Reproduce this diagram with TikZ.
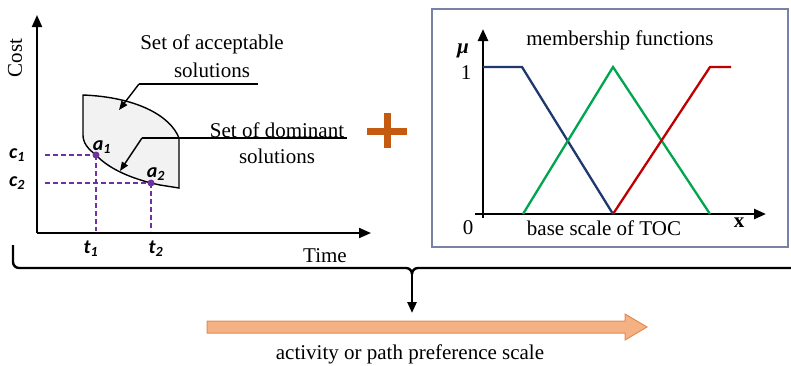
\documentclass[tikz,border=0pt]{standalone}
\usepackage{fontspec}
\setmainfont{Liberation Serif}
\newfontfamily\labfont{Carlito}
\usetikzlibrary{arrows.meta}
\definecolor{navyline}{RGB}{31,56,110}
\definecolor{greenline}{RGB}{0,165,80}
\definecolor{redline}{RGB}{192,0,0}
\definecolor{purp}{RGB}{112,48,160}
\definecolor{boxedge}{RGB}{120,130,165}
\definecolor{plusor}{RGB}{197,90,17}
\definecolor{arrfill}{RGB}{244,177,131}
\definecolor{arredge}{RGB}{229,139,79}
\begin{document}
\begin{tikzpicture}[x=1pt,y=-1pt,
  txt/.style={font=\fontsize{21}{24}\selectfont, inner sep=0pt},
  lab/.style={font=\fontsize{20}{22}\selectfont\labfont\bfseries\itshape, inner sep=0pt},
  axis/.style={line width=2pt, -{Triangle[length=12pt,width=10pt]}},
  pdash/.style={purp, line width=1.3pt, dash pattern=on 5pt off 3pt},
  leader/.style={line width=1.4pt},
  leadarrow/.style={line width=1.4pt, -{Triangle[length=9pt,width=7pt]}},
  mf/.style={line width=2.3pt, line join=miter}]
\useasboundingbox (0,0) rectangle (791,365);
% ---------- left chart ----------
\coordinate (o) at (37,233);
\coordinate (ytop) at (37,15);
\coordinate (xend) at (371,233);
\draw[axis] (o) -- (ytop);
\draw[axis] (o) -- (xend);
\node[txt, rotate=90] (cost) at (15,58) {Cost};
\node[txt] (time) at (325,256) {Time};
% region
\coordinate (a1) at (96,155);
\coordinate (a2) at (151,183);
\draw[line width=1.4pt, fill=black!5]
  (83,95) .. controls (135,97) and (170,115) .. (179,138)
  -- (179,188) -- (160,185) -- (a2)
  .. controls (128,177) and (108,168) .. (a1)
  .. controls (88,149) and (83,143) .. (83,135) -- cycle;
% dashed projections
\coordinate (c1l) at (45,155);
\coordinate (c2l) at (45,183);
\coordinate (t1b) at (96,231);
\coordinate (t2b) at (151,231);
\draw[pdash] (c1l) -- (a1);
\draw[pdash] (c2l) -- (a2);
\draw[pdash] (a1) -- (t1b);
\draw[pdash] (a2) -- (t2b);
\fill[purp] (a1) circle (3.5pt);
\fill[purp] (a2) circle (3.5pt);
\node[lab] (c1) at (17,155) {c\textsubscript{1}};
\node[lab] (c2) at (17,183) {c\textsubscript{2}};
\node[lab] (t1) at (91,249) {t\textsubscript{1}};
\node[lab] (t2) at (156,249) {t\textsubscript{2}};
\node[lab] (a1l) at (102,147) {a\textsubscript{1}};
\node[lab] (a2l) at (156,174) {a\textsubscript{2}};
% labels and leaders
\node[txt] (acc1) at (212,44) {Set of acceptable};
\node[txt] (acc2) at (212,70) {solutions};
\node[txt] (dom1) at (277,130) {Set of dominant};
\node[txt] (dom2) at (277,156) {solutions};
\coordinate (l1a) at (139,84);
\coordinate (l1b) at (258,84);
\coordinate (l1t) at (119,110);
\coordinate (l2a) at (142,138);
\coordinate (l2b) at (347,138);
\coordinate (l2t) at (120,171);
\draw[leader] (l1a) -- (l1b);
\draw[leadarrow] (l1a) -- (l1t);
\draw[leader] (l2a) -- (l2b);
\draw[leadarrow] (l2a) -- (l2t);
% plus sign
\coordinate (pc) at (387,131);
\fill[plusor] (367,127.5) rectangle (407,134.5);
\fill[plusor] (383.5,113) rectangle (390.5,148);
% ---------- right box ----------
\draw[boxedge, line width=1.6pt] (432,9) rectangle (788,247);
\coordinate (ro) at (483,214);
\coordinate (rxs) at (475,214);
\coordinate (rytop) at (483,29);
\coordinate (rybot) at (483,218);
\coordinate (rxend) at (766,214);
\draw[axis, line width=2.5pt] (rybot) -- (rytop);
\draw[axis, line width=2.5pt] (rxs) -- (rxend);
\draw[mf, navyline] (483,67) -- (522,67) -- (613,214);
\draw[mf, greenline] (523,214) -- (613,67) -- (710,214);
\draw[mf, redline] (613,214) -- (710,67) -- (731,67);
\node[txt] (mft) at (620,40) {membership functions};
\node[txt] (one) at (466,73) {1};
\node[txt, font=\fontsize{21}{24}\selectfont\bfseries\itshape] (mu) at (463,51) {µ};
\node[txt] (zero) at (468,228) {0};
\node[txt] (base) at (604,228) {base scale of TOC};
\node[txt, font=\fontsize{21}{24}\selectfont\bfseries] (xl) at (739,223) {x};
% ---------- brace and bottom arrow ----------
\coordinate (bl) at (13,245);
\coordinate (bm) at (412,274);
\coordinate (br) at (791,268);
\coordinate (btip) at (412,313);
\draw[line width=2.4pt, line join=round]
  (bl) -- (13,262) to[out=-90,in=180] (19,268) -- (406,268) to[out=0,in=90] (bm);
\draw[line width=2.4pt] (bm) to[out=90,in=180] (418,268) -- (br);
\draw[line width=2.4pt, -{Triangle[length=11pt,width=9pt]}] (bm) -- (btip);
\draw[arredge, fill=arrfill, line width=1pt, line join=miter]
  (207,321) -- (625,321) -- (625,314) -- (647,327) -- (625,340) -- (625,333) -- (207,333) -- cycle;
\node[txt] (scale) at (410,354) {activity or path preference scale};
\end{tikzpicture}
\end{document}
